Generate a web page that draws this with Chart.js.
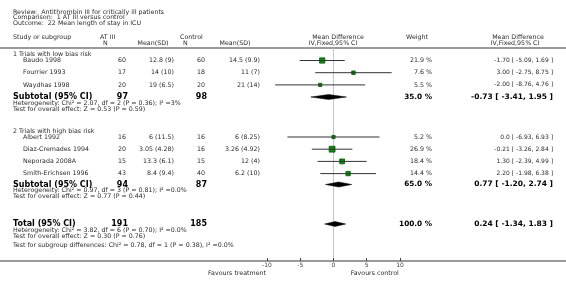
<!DOCTYPE html>
<html>
<head>
<meta charset="utf-8">
<script src="https://cdn.jsdelivr.net/npm/chart.js@4"></script>
<style>
  html, body { margin: 0; padding: 0; background: #fff; }
  #wrap { width: 566px; height: 284px; }
</style>
</head>
<body>
<div id="wrap"><canvas id="forest" width="566" height="284"></canvas></div>
<script>
// study level data
const studies = ['Baudo 1998', 'Fourrier 1993', 'Waydhas 1998', 'Albert 1992', 'Diaz-Cremades 1994', 'Neporada 2008A', 'Smith-Erichsen 1996'];
const studyGroup = [0, 0, 0, 1, 1, 1, 1];
const nTreat = [60, 17, 20, 16, 20, 15, 43];
const meanTreat = [12.8, 14, 19, 6, 3.05, 13.3, 8.4];
const sdTreat = [9, 10, 6.5, 11.5, 4.28, 6.1, 9.4];
const nCtrl = [60, 18, 20, 16, 16, 15, 40];
const meanCtrl = [14.5, 11, 21, 6, 3.26, 12, 6.2];
const sdCtrl = [9.9, 7, 14, 8.25, 4.92, 4, 10];
const md = [-1.70, 3.00, -2.00, 0.0, -0.21, 1.30, 2.20];
const ciLow = [-5.09, -2.75, -8.76, -6.93, -3.26, -2.39, -1.98];
const ciHigh = [1.69, 8.75, 4.76, 6.93, 2.84, 4.99, 6.38];
const weight = [21.9, 7.6, 5.5, 5.2, 26.9, 18.4, 14.4];

// subgroups and total
const groupTitles = ['1 Trials with low bias risk', '2 Trials with high bias risk'];
const pooledLabels = ['Subtotal (95% CI)', 'Subtotal (95% CI)', 'Total (95% CI)'];
const pooledNTreat = [97, 94, 191];
const pooledNCtrl = [98, 87, 185];
const pooledMd = [-0.73, 0.77, 0.24];
const pooledLow = [-3.41, -1.20, -1.34];
const pooledHigh = [1.95, 2.74, 1.83];
const pooledWeight = [35.0, 65.0, 100.0];
const heterogeneity = [
  'Heterogeneity: Chi\u00b2 = 2.07, df = 2 (P = 0.36); I\u00b2 =3%',
  'Heterogeneity: Chi\u00b2 = 0.97, df = 3 (P = 0.81); I\u00b2 =0.0%',
  'Heterogeneity: Chi\u00b2 = 3.82, df = 6 (P = 0.70); I\u00b2 =0.0%'
];
const overallEffect = [
  'Test for overall effect: Z = 0.53 (P = 0.59)',
  'Test for overall effect: Z = 0.77 (P = 0.44)',
  'Test for overall effect: Z = 0.30 (P = 0.76)'
];
const subgroupTest = 'Test for subgroup differences: Chi\u00b2 = 0.78, df = 1 (P = 0.38), I\u00b2 =0.0%';

const xTicks = [-10, -5, 0, 5, 10];

// vertical layout of the table (pixel rows)
const groupTop = [54.5, 131];
const studyStep = 12.2;
function studyY(i) {
  const g = studyGroup[i];
  const idx = studyGroup.slice(0, i).filter(v => v === g).length;
  return groupTop[g] + 6 + idx * studyStep;
}
const pooledY = [97, 184.5, 224];

const fmtMd = v => (v === 0 ? '0.0' : v.toFixed(2));
const ciText = (m, lo, hi) => `${fmtMd(m)} [ ${lo.toFixed(2)}, ${hi.toFixed(2)} ]`;
const squareSide = w => 2.6 + 0.12 * w;

const datasets = [];
studies.forEach((s, i) => {
  const y = studyY(i);
  datasets.push({
    data: [{ x: ciLow[i], y }, { x: ciHigh[i], y }],
    showLine: true, borderColor: '#333', borderWidth: 1, pointRadius: 0
  });
});
datasets.push({
  data: studies.map((s, i) => ({ x: md[i], y: studyY(i) })),
  pointStyle: 'rect',
  pointRadius: weight.map(w => squareSide(w) / 1.414),
  backgroundColor: '#0b8c0b',
  borderColor: '#005500',
  borderWidth: 0.8
});
pooledMd.forEach((m, i) => {
  const y = pooledY[i];
  datasets.push({
    data: [{ x: pooledLow[i], y }, { x: m, y: y - 2.5 }, { x: pooledHigh[i], y }],
    showLine: true, fill: '+1', backgroundColor: '#000', borderColor: '#000',
    borderWidth: 0.5, pointRadius: 0, tension: 0
  });
  datasets.push({
    data: [{ x: pooledLow[i], y }, { x: m, y: y + 2.5 }, { x: pooledHigh[i], y }],
    showLine: true, fill: false, borderColor: '#000',
    borderWidth: 0.5, pointRadius: 0, tension: 0
  });
});

const FONT = '"DejaVu Sans", sans-serif';
function txt(ctx, s, x, y, opts = {}) {
  ctx.font = `${opts.bold ? 'bold ' : ''}${opts.size || 6.3}px ${FONT}`;
  ctx.fillStyle = opts.color || '#2a2a2a';
  ctx.textAlign = opts.align || 'left';
  ctx.textBaseline = 'middle';
  ctx.fillText(s, x, y);
}

const tablePlugin = {
  id: 'table',
  beforeDraw(chart) {
    const ctx = chart.ctx;
    ctx.save();
    ctx.strokeStyle = '#9a9a9a';
    ctx.lineWidth = 2;
    [48, 261].forEach(y => {
      ctx.beginPath(); ctx.moveTo(0, y); ctx.lineTo(566, y); ctx.stroke();
    });
    ctx.restore();
  },
  afterDraw(chart) {
    const ctx = chart.ctx;
    const xs = chart.scales.x;
    ctx.save();
    txt(ctx, 'Review:  Antithrombin III for critically ill patients', 13, 12);
    txt(ctx, 'Comparison:  1 AT III versus control', 13, 17.5);
    txt(ctx, 'Outcome:  22 Mean length of stay in ICU', 13, 23.5);

    txt(ctx, 'Study or subgroup', 13, 37.5);
    txt(ctx, 'AT III', 100, 37.5);
    txt(ctx, 'N', 103, 43);
    txt(ctx, 'Mean(SD)', 153, 43, { align: 'center' });
    txt(ctx, 'Control', 180, 37.5);
    txt(ctx, 'N', 183, 43);
    txt(ctx, 'Mean(SD)', 235, 43, { align: 'center' });
    txt(ctx, 'Mean Difference', 338, 37.5, { align: 'center' });
    txt(ctx, 'IV,Fixed,95% CI', 333, 43, { align: 'center' });
    txt(ctx, 'Weight', 417, 37.5, { align: 'center' });
    txt(ctx, 'Mean Difference', 518, 37.5, { align: 'center' });
    txt(ctx, 'IV,Fixed,95% CI', 515, 43, { align: 'center' });

    groupTitles.forEach((g, i) => txt(ctx, g, 13, groupTop[i]));
    studies.forEach((s, i) => {
      const y = studyY(i);
      txt(ctx, s, 23, y);
      txt(ctx, String(nTreat[i]), 126, y, { align: 'right' });
      txt(ctx, `${meanTreat[i]} (${sdTreat[i]})`, 174, y, { align: 'right' });
      txt(ctx, String(nCtrl[i]), 205, y, { align: 'right' });
      txt(ctx, `${meanCtrl[i]} (${sdCtrl[i]})`, 260, y, { align: 'right' });
      txt(ctx, `${weight[i].toFixed(1)} %`, 432, y, { align: 'right' });
      txt(ctx, ciText(md[i], ciLow[i], ciHigh[i]), 553, y, { align: 'right', size: 6 });
    });
    pooledLabels.forEach((p, i) => {
      const y = pooledY[i];
      txt(ctx, p, 13, y, { bold: true, size: 8, color: '#000' });
      txt(ctx, String(pooledNTreat[i]), 128, y, { align: 'right', bold: true, size: 8, color: '#000' });
      txt(ctx, String(pooledNCtrl[i]), 207, y, { align: 'right', bold: true, size: 8, color: '#000' });
      txt(ctx, `${pooledWeight[i].toFixed(1)} %`, 432, y, { align: 'right', bold: true, size: 7.3, color: '#000' });
      txt(ctx, ciText(pooledMd[i], pooledLow[i], pooledHigh[i]), 553, y, { align: 'right', bold: true, size: 7.5, color: '#000' });
      txt(ctx, heterogeneity[i], 13, y + 6);
      txt(ctx, overallEffect[i], 13, y + 12);
    });
    txt(ctx, subgroupTest, 13, 245);

    txt(ctx, 'Favours treatment', xs.left - 30, 273, { align: 'center' });
    txt(ctx, 'Favours control', xs.getPixelForValue(6.2), 273, { align: 'center' });
    ctx.restore();
  }
};

new Chart(document.getElementById('forest'), {
  type: 'scatter',
  data: { datasets },
  plugins: [tablePlugin],
  options: {
    responsive: false,
    animation: false,
    devicePixelRatio: 1,
    layout: { padding: { left: 267, right: 166, top: 48, bottom: 0 } },
    plugins: { legend: { display: false }, tooltip: { enabled: false } },
    scales: {
      x: {
        type: 'linear', min: -10, max: 10, position: 'bottom',
        afterFit(s) { s.height = 26; },
        afterBuildTicks(s) { s.ticks = xTicks.map(v => ({ value: v })); },
        ticks: { font: { size: 6, family: FONT }, color: '#444', padding: 1, autoSkip: false, maxRotation: 0 },
        grid: {
          color: c => (c.tick && c.tick.value === 0 ? '#c4c4c4' : 'rgba(0,0,0,0)'),
          tickColor: '#444', tickLength: 3, lineWidth: 1
        },
        border: { display: false }
      },
      y: { type: 'linear', display: false, min: 48, max: 258, reverse: true }
    }
  }
});
</script>
</body>
</html>
